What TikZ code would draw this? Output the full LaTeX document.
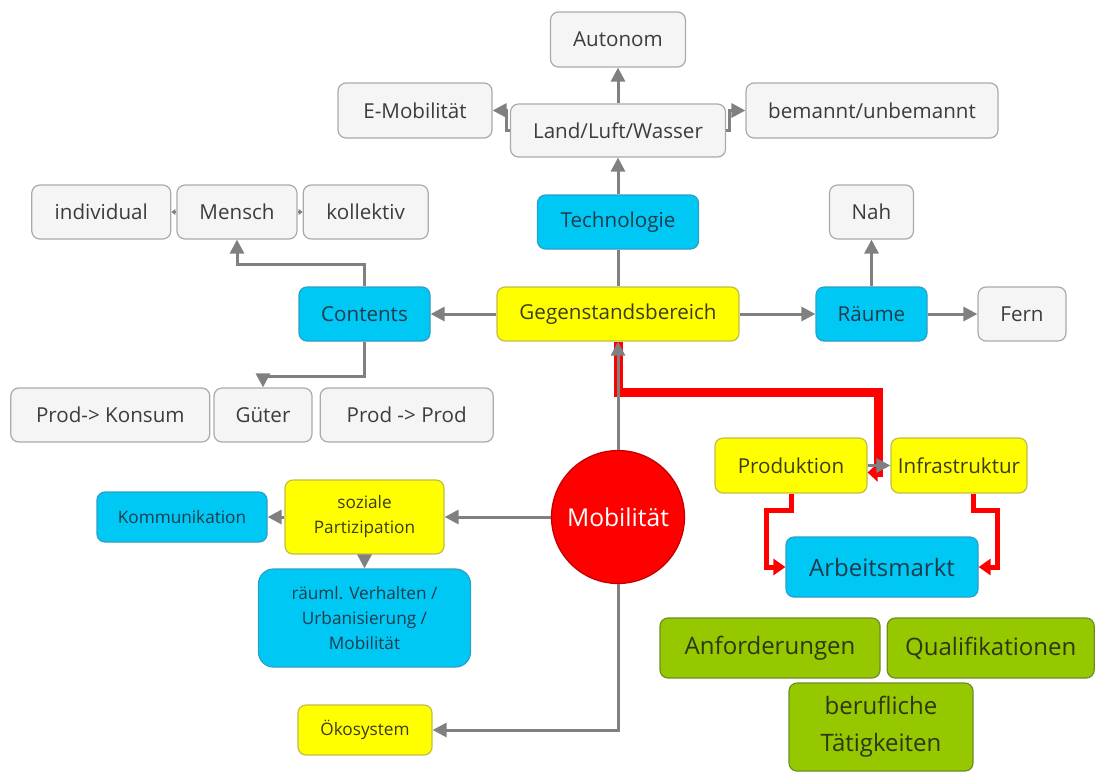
\documentclass[tikz,border=0pt]{standalone}
\usepackage{fontspec}
\setmainfont{Open Sans}
\usetikzlibrary{arrows.meta, positioning}
\newlength{\px}
\setlength{\px}{0.5pt}
\definecolor{boxgrey}{RGB}{245,245,245}
\definecolor{bordergrey}{RGB}{170,170,170}
\definecolor{linegrey}{RGB}{128,128,128}
\definecolor{textgrey}{RGB}{60,60,60}
\definecolor{topiccyan}{RGB}{0,200,245}
\definecolor{cyanborder}{RGB}{40,160,200}
\definecolor{textdark}{RGB}{30,60,75}
\definecolor{fieldyellow}{RGB}{255,255,0}
\definecolor{yellowborder}{RGB}{190,190,70}
\definecolor{textolive}{RGB}{60,60,25}
\definecolor{skillgreen}{RGB}{150,200,0}
\definecolor{greenborder}{RGB}{110,140,40}
\definecolor{textgreen}{RGB}{45,55,20}
\definecolor{mobred}{RGB}{255,0,0}
\definecolor{mobborder}{RGB}{190,0,0}
\tikzstyle{block} = [rectangle, rounded corners=8\px, draw=bordergrey, line width=1.2\px, fill=boxgrey, text=textgrey, text centered, inner sep=0pt, minimum height=54\px, font=\fontsize{10.3}{12}\selectfont]
\tikzstyle{topic} = [block, draw=cyanborder, fill=topiccyan, text=textdark]
\tikzstyle{field} = [block, draw=yellowborder, fill=fieldyellow, text=textolive]
\tikzstyle{skill} = [block, draw=greenborder, fill=skillgreen, text=textgreen, minimum height=60\px, font=\fontsize{12}{18.5}\selectfont]
\tikzstyle{small} = [font=\fontsize{8.6}{12.5}\selectfont]
\tikzstyle{arrow} = [line width=3\px, draw=linegrey, -{Triangle[length=7pt, width=7pt]}]
\tikzstyle{link} = [line width=3\px, draw=linegrey]
\tikzstyle{tick} = [line width=1.5\px, draw=linegrey, -{Triangle[length=2pt, width=3pt]}]
\tikzstyle{mainpath} = [line width=9\px, draw=red, -{Triangle[length=5pt, width=9pt]}]
\tikzstyle{marketpath} = [line width=5\px, draw=red, -{Triangle[length=6pt, width=8pt]}]

\begin{document}
\begin{tikzpicture}[x=\px, y=-\px]

    \useasboundingbox (0,0) rectangle (1095,772);

    % Centre
    \node (gegen) [field, minimum width=242\px] at (618,314) {Gegenstandsbereich};
    \node (mob) [circle, draw=mobborder, line width=1.2\px, fill=mobred, text=white, minimum size=133\px, inner sep=0pt, font=\fontsize{12.3}{14}\selectfont] at (618,517) {Mobilität};

    % Technologie
    \node (tech) [topic, minimum width=161\px] at (618,222) {Technologie};
    \node (land) [block, minimum width=215\px, minimum height=53\px] at (618,130.5) {Land/Luft/Wasser};
    \node (autonom) [block, minimum width=135\px, minimum height=55\px] at (618,39.5) {Autonom};
    \node (emob) [block, minimum width=154\px, minimum height=55\px] at (415,110.5) {E-Mobilität};
    \node (bemannt) [block, minimum width=252\px, minimum height=55\px] at (872,110.5) {bemannt/unbemannt};

    % Contents
    \node (contents) [topic, minimum width=131\px] at (364.5,314) {Contents};
    \node (mensch) [block, minimum width=120\px] at (237,212) {Mensch};
    \node (individual) [block, minimum width=139\px, left=5\px of mensch] {individual};
    \node (kollektiv) [block, minimum width=125\px, right=5\px of mensch] {kollektiv};
    \node (gueter) [block, minimum width=98\px] at (263,415) {Güter};
    \node (konsum) [block, minimum width=199\px, left=3\px of gueter] {Prod-> Konsum};
    \node (prodprod) [block, minimum width=173\px, right=7\px of gueter] {Prod -> Prod};

    % Raeume
    \node (raeume) [topic, minimum width=111\px] at (871.5,314) {Räume};
    \node (nah) [block, minimum width=84\px] at (871.5,212) {Nah};
    \node (fern) [block, minimum width=88\px] at (1022,314) {Fern};

    % Soziales
    \node (sozial) [field, small, minimum width=159\px, minimum height=74\px, align=center] at (364.5,517) {soziale\\Partizipation};
    \node (komm) [topic, small, minimum width=170\px, minimum height=50\px] at (182,517) {Kommunikation};
    \node (raeuml) [topic, small, rounded corners=15\px, minimum width=212\px, minimum height=98\px, align=center] at (364.5,618) {räuml. Verhalten /\\Urbanisierung /\\Mobilität};
    \node (oeko) [field, small, minimum width=134\px, minimum height=50\px] at (365,730) {Ökosystem};

    % Arbeitsmarkt
    \node (prod) [field, minimum width=152\px, minimum height=55\px] at (791,465.5) {Produktion};
    \node (infra) [field, minimum width=136\px, minimum height=55\px] at (959,465.5) {Infrastruktur};
    \node (arbeit) [topic, minimum width=192\px, minimum height=60\px, font=\fontsize{12}{14}\selectfont] at (882,567) {Arbeitsmarkt};
    \node (anf) [skill, minimum width=220\px] at (770,648) {Anforderungen};
    \node (quali) [skill, minimum width=207\px, right=6\px of anf] {Qualifikationen};
    \node (beruf) [skill, minimum width=184\px, minimum height=88\px, align=center] at (881,727) {berufliche\\Tätigkeiten};
    \coordinate (redtip) at ([yshift=-3.5pt]prod.east);

    % ==== Arrows
    % red
    \draw [mainpath] (gegen.south) -- ++(0,51) -| ([xshift=5.5pt]redtip) -- (redtip);
    \draw [marketpath] (prod.south) -- ++(0,17) -- ++(-25,0) |- (arbeit.west);
    \draw [marketpath] ([xshift=7pt]infra.south) -- ++(0,17) -- ++(24,0) |- (arbeit.east);

    % grey
    \draw [arrow] (mob) -- (gegen);
    \draw [link] (gegen) -- (tech);
    \draw [arrow] (tech) -- (land);
    \draw [arrow] (land) -- (autonom);
    \draw [arrow] (land.west) -- ++(-3,0) |- (emob.east);
    \draw [arrow] (land.east) -- ++(3,0) |- (bemannt.west);
    \draw [arrow] (gegen) -- (contents);
    \draw [arrow] (gegen) -- (raeume);
    \draw [arrow] (raeume) -- (fern);
    \draw [arrow] (raeume) -- (nah);
    \draw [arrow] (contents.north) -- ++(0,-22) -| (mensch.south);
    \draw [arrow] (contents.south) -- ++(0,35) -| (gueter.north);
    \draw [tick] (mensch) -- (individual);
    \draw [tick] (mensch) -- (kollektiv);
    \draw [arrow] (mob) -- (sozial);
    \draw [arrow] (sozial) -- (komm);
    \draw [arrow] (sozial) -- (raeuml);
    \draw [arrow] (mob.south) |- (oeko.east);
    \draw [arrow] (prod) -- (infra);

\end{tikzpicture}
\end{document}
